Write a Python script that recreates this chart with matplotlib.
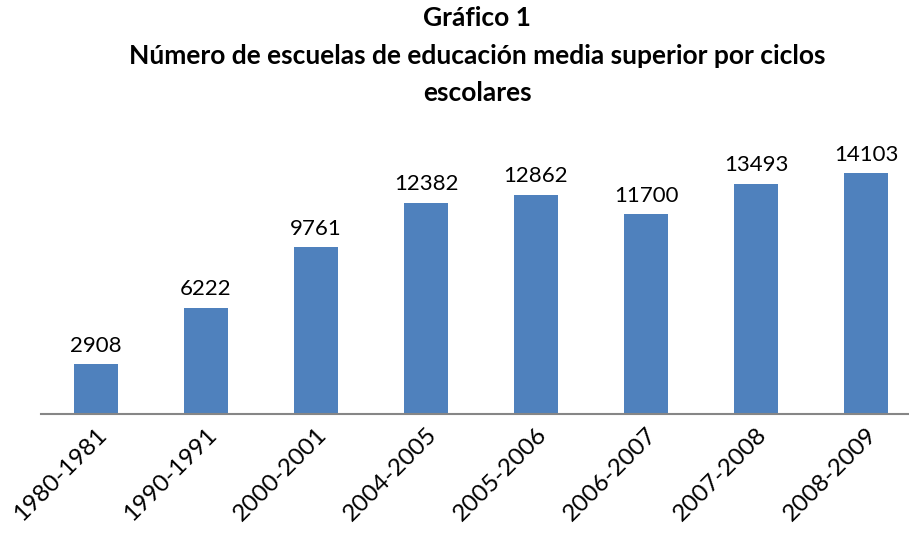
import matplotlib.pyplot as plt

# Data
ciclos = ["1980-1981", "1990-1991", "2000-2001", "2004-2005",
          "2005-2006", "2006-2007", "2007-2008", "2008-2009"]
escuelas = [2908, 6222, 9761, 12382, 12862, 11700, 13493, 14103]

plt.rcParams['font.family'] = ['Lato', 'DejaVu Sans']

fig = plt.figure(figsize=(9.09, 5.35), dpi=100)
ax = fig.add_axes([41 / 909, 1 - 414 / 535, 868 / 909, 273 / 535])

x = range(len(ciclos))
bars = ax.bar(x, escuelas, width=0.4, color="#4F81BD")

for xi, v in zip(x, escuelas):
    ax.text(xi, v + 500, str(v), ha="center", va="bottom", fontsize=16)

ax.set_xlim(-0.5, 868 / 110 - 0.5)
ax.set_ylim(0, 16000)
ax.set_xticks(list(x))
ax.set_xticklabels(ciclos, rotation=45, ha="right", rotation_mode="anchor", fontsize=17.5)
ax.tick_params(axis="x", length=0, pad=7)
ax.set_yticks([])

for s in ["top", "right", "left"]:
    ax.spines[s].set_visible(False)
ax.spines["bottom"].set_color("#868686")
ax.spines["bottom"].set_linewidth(1.5)

fig.text(0.525, 1 - 18 / 535, "Gráfico 1", ha="center", va="center",
         fontsize=19, fontweight="bold")
fig.text(0.525, 1 - 56 / 535, "Número de escuelas de educación media superior por ciclos",
         ha="center", va="center", fontsize=19, fontweight="bold")
fig.text(0.525, 1 - 93 / 535, "escolares", ha="center", va="center",
         fontsize=19, fontweight="bold")

fig.savefig("out.png", dpi=100)
